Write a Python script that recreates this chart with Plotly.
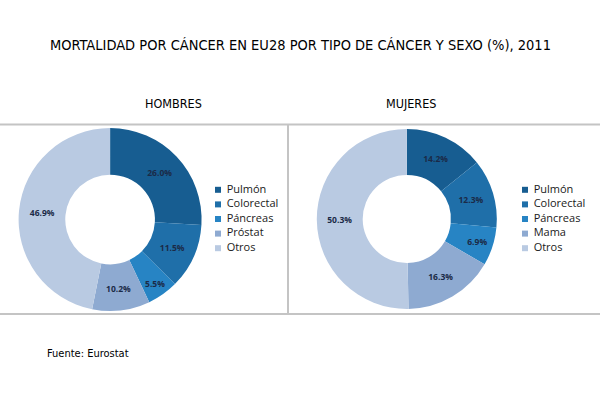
import plotly.graph_objects as go

# datos (% de muertes por cancer, EU28, 2011)
tipos_hombres = ["Pulmón", "Colorectal", "Páncreas", "Próstat", "Otros"]
valores_hombres = [26.0, 11.5, 5.5, 10.2, 46.9]

tipos_mujeres = ["Pulmón", "Colorectal", "Páncreas", "Mama", "Otros"]
valores_mujeres = [14.2, 12.3, 6.9, 16.3, 50.3]

colores = ["#175d91", "#1f6fa9", "#2784c4", "#8eaad1", "#b9cae2"]

titulo = "MORTALIDAD POR CÁNCER EN EU28 POR TIPO DE CÁNCER Y SEXO (%), 2011"
fuente = "Fuente: Eurostat"

condensada = "DejaVu Sans Condensed, DejaVu Sans, sans-serif"
texto_fuente = "Open Sans, Liberation Sans, sans-serif"
gris = "#c4c4c4"


def dona(etiquetas, valores, dom_x, dom_y):
    return go.Pie(
        labels=etiquetas, values=valores,
        hole=0.49, sort=False, direction="clockwise", rotation=0,
        marker=dict(colors=colores, line=dict(width=0)),
        texttemplate="%{value:.1f}%", textposition="inside",
        insidetextorientation="horizontal",
        insidetextfont=dict(family=texto_fuente, size=8.5, color="#1b2a47", weight="bold"),
        domain=dict(x=dom_x, y=dom_y), showlegend=False, hoverinfo="label+value")


# leyenda propia (la de plotly junta las etiquetas repetidas de ambas donas)
def leyenda(etiquetas, eje_x, eje_y):
    cuadros = go.Scatter(
        x=[0] * len(etiquetas), y=list(range(len(etiquetas))), mode="markers",
        marker=dict(symbol="square", size=6, color=colores),
        xaxis=eje_x, yaxis=eje_y, cliponaxis=False, showlegend=False, hoverinfo="skip")
    textos = go.Scatter(
        x=[1.2] * len(etiquetas), y=list(range(len(etiquetas))),
        mode="text", text=etiquetas, textposition="middle right",
        textfont=dict(family=texto_fuente, size=11, color="#1a1a1a"),
        xaxis=eje_x, yaxis=eje_y, cliponaxis=False, showlegend=False, hoverinfo="skip")
    return [cuadros, textos]


fig = go.Figure()
fig.add_trace(dona(tipos_hombres, valores_hombres, [0.03, 0.337], [0.2225, 0.68]))
fig.add_trace(dona(tipos_mujeres, valores_mujeres, [0.528, 0.828], [0.2275, 0.6775]))
fig.add_traces(leyenda(tipos_hombres, "x", "y"))
fig.add_traces(leyenda(tipos_mujeres, "x2", "y2"))

eje_oculto = dict(visible=False, showgrid=False, zeroline=False, fixedrange=True)
dom_leyenda_y = [1 - 255.5 / 400, 1 - 182.5 / 400]

fig.update_layout(
    width=600, height=400,
    margin=dict(l=0, r=0, t=0, b=0),
    paper_bgcolor="white", plot_bgcolor="rgba(0,0,0,0)",
    showlegend=False,
    xaxis=dict(eje_oculto, domain=[218 / 600, 290 / 600], range=[0, 10]),
    yaxis=dict(eje_oculto, domain=dom_leyenda_y, range=[4.5, -0.5]),
    xaxis2=dict(eje_oculto, domain=[525 / 600, 597 / 600], range=[0, 10]),
    yaxis2=dict(eje_oculto, domain=dom_leyenda_y, range=[4.5, -0.5]),
    shapes=[
        dict(type="line", xref="paper", yref="paper", x0=0, x1=1, y0=1 - 124.5 / 400, y1=1 - 124.5 / 400,
             line=dict(color=gris, width=2)),
        dict(type="line", xref="paper", yref="paper", x0=0, x1=1, y0=1 - 314 / 400, y1=1 - 314 / 400,
             line=dict(color=gris, width=2)),
        dict(type="line", xref="paper", yref="paper", x0=288 / 600, x1=288 / 600,
             y0=1 - 124.5 / 400, y1=1 - 314 / 400, line=dict(color=gris, width=2)),
    ],
    annotations=[
        dict(text=titulo, x=0.5, y=1 - 35 / 400, xref="paper", yref="paper", showarrow=False,
             font=dict(family=condensada, size=14.5, color="#000000")),
        dict(text="HOMBRES", x=143 / 600, y=1 - 94 / 400, xref="paper", yref="paper", showarrow=False,
             font=dict(family=condensada, size=12.5, color="#000000")),
        dict(text="MUJERES", x=438 / 600, y=1 - 94 / 400, xref="paper", yref="paper", showarrow=False,
             font=dict(family=condensada, size=12.5, color="#000000")),
        dict(text=fuente, x=45 / 600, y=1 - 362 / 400, xref="paper", yref="paper", showarrow=False,
             xanchor="left", font=dict(family=condensada, size=11, color="#000000")),
    ],
)

fig.write_html("out.html", config={"displayModeBar": False},
               post_script="document.body.style.margin='0';")
